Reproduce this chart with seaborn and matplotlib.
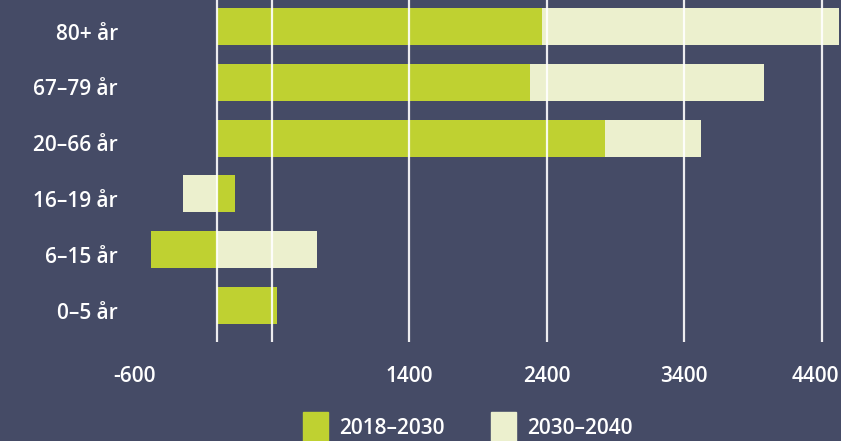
import seaborn as sns
import matplotlib.pyplot as plt
from matplotlib.transforms import ScaledTranslation

# age groups and population change per period
categories = ['80+ år', '67–79 år', '20–66 år', '16–19 år', '6–15 år', '0–5 år']
change_2018_2030 = [2367, 2280, 2821, 133, -480, 437]
change_2030_2040 = [2163, 1703, 704, -245, 730, 0]
series_names = ['2018–2030', '2030–2040']

tick_values = [-600, 400, 1400, 2400, 3400, 4400]
tick_labels = ['-600', '', '1400', '2400', '3400', '4400']

bg = '#454b66'
green = '#bfd131'
cream = '#ecf0ce'

sns.set_theme(style='white')
plt.rcParams['font.family'] = ['Open Sans', 'DejaVu Sans']

fig = plt.figure(figsize=(8.41, 4.41), dpi=100, facecolor=bg)
ax = fig.add_axes([0.16, 0.2245, 0.84, 0.7755])
ax.set_facecolor(bg)

# second period stacks on the first when both go the same way
cream_end = []
for a, b in zip(change_2018_2030, change_2030_2040):
    if a * b > 0:
        cream_end.append(a + b)
    else:
        cream_end.append(b)

sns.barplot(x=cream_end, y=categories, orient='h', color=cream, saturation=1,
            width=0.66, ax=ax, zorder=2, linewidth=0, edgecolor='none')
sns.barplot(x=change_2018_2030, y=categories, orient='h', color=green, saturation=1,
            width=0.66, ax=ax, zorder=3, linewidth=0, edgecolor='none')

for v in [0, 400, 1400, 2400, 3400, 4400]:
    ax.axvline(v, color='white', lw=1.6, alpha=0.9, zorder=4)

ax.set_xlim(-600, 4541)
ax.set_ylim(5.654, -0.475)
ax.set_xticks(tick_values)
ax.set_xticklabels(tick_labels)
ax.tick_params(axis='x', length=0, pad=17, labelsize=15, labelcolor='white')
ax.tick_params(axis='y', length=0, pad=12, labelsize=15, labelcolor='white')
for lab in ax.get_xticklabels() + ax.get_yticklabels():
    lab.set_fontweight('semibold')
# labels sit a little below the bar centres
for lab in ax.get_yticklabels():
    lab.set_transform(lab.get_transform() + ScaledTranslation(0, -5 / 100, fig.dpi_scale_trans))
last = ax.get_xticklabels()[-1]
last.set_transform(last.get_transform() + ScaledTranslation(-6 / 100, 0, fig.dpi_scale_trans))
for s in ax.spines.values():
    s.set_visible(False)
ax.set_xlabel('')
ax.set_ylabel('')

handles = [plt.Rectangle((0, 0), 1, 1, color=green), plt.Rectangle((0, 0), 1, 1, color=cream)]
leg = fig.legend(handles, series_names, loc='center', bbox_to_anchor=(0.556, 0.03),
                 ncol=2, frameon=False, fontsize=15, handlelength=1.2, handleheight=2.0,
                 handletextpad=0.55, columnspacing=2.2)
for t in leg.get_texts():
    t.set_color('white')
    t.set_fontweight('semibold')

fig.savefig('out.png', dpi=100, facecolor=bg)
